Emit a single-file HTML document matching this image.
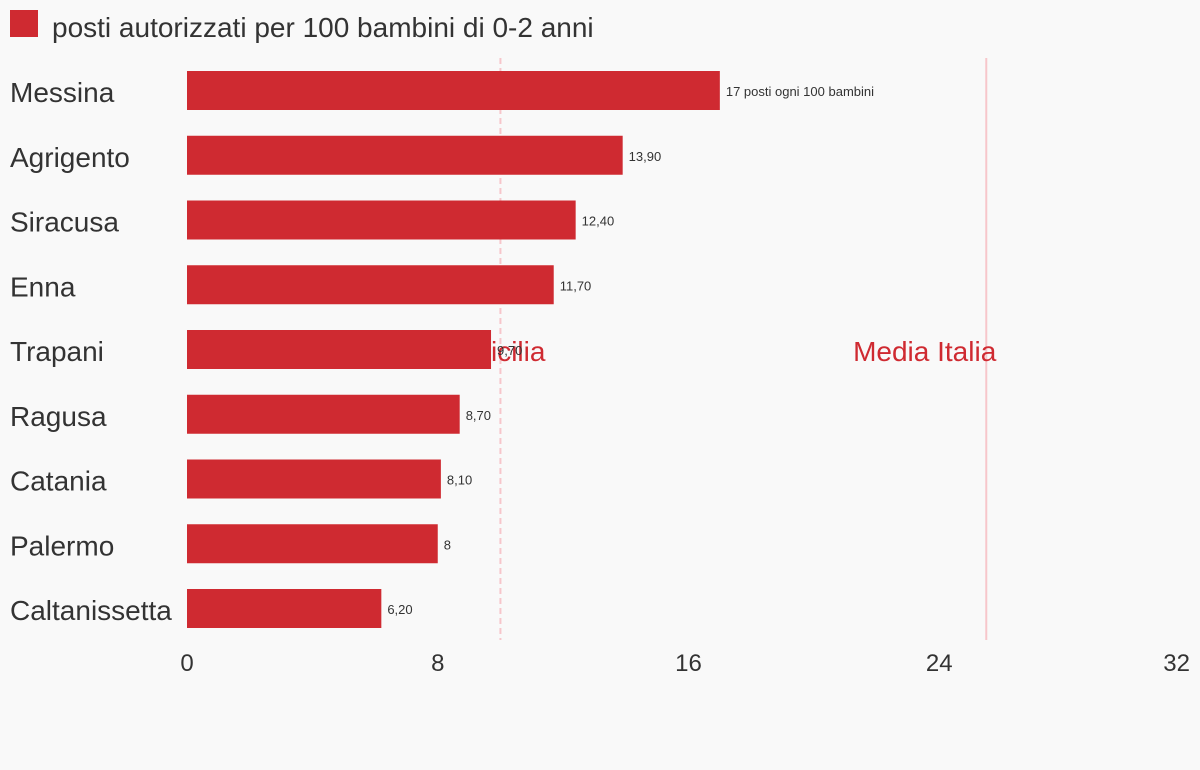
<!DOCTYPE html>
<html><head><meta charset="utf-8"><style>
body{margin:0;background:#f9f9f9;}
svg{display:block;font-family:"Liberation Sans",sans-serif;}
</style></head><body>
<svg id="c" width="1200" height="770">
<rect width="1200" height="770" fill="#f9f9f9"/>
<rect x="10" y="10" width="28" height="27" fill="#cf2a31"/>
<text x="52" y="37" font-size="28" fill="#333">posti autorizzati per 100 bambini di 0-2 anni</text>
<g id="refs"></g><g id="bars"></g><g id="ticks"></g>
</svg>
<script>
const categories=["Messina","Agrigento","Siracusa","Enna","Trapani","Ragusa","Catania","Palermo","Caltanissetta"];
const values=[17,13.9,12.4,11.7,9.7,8.7,8.1,8,6.2];
const valueLabels=["17 posti ogni 100 bambini","13,90","12,40","11,70","9,70","8,70","8,10","8","6,20"];
const tickValues=[0,8,16,24,32];
const refValues=[10,25.5];
const refLabels=["Media Sicilia","Media Italia"];
const NS="http://www.w3.org/2000/svg";
const x=v=>187+v*(1003/32);
const y=i=>71+i*64.75;
function mk(t,a,p){const e=document.createElementNS(NS,t);for(const k in a)e.setAttribute(k,a[k]);p.appendChild(e);return e;}
const refs=document.getElementById('refs'),bars=document.getElementById('bars'),ticks=document.getElementById('ticks');
refValues.forEach((v,i)=>{
 const l=mk('line',{x1:x(v),x2:x(v),y1:58,y2:640,stroke:'#f7c6cb','stroke-width':2,'stroke-dasharray':i==0?'6,4':'none'},refs);
 
 
 const t=mk('text',{x:i==0?x(v)+45:x(v)+10,y:361,'font-size':28,fill:'#cf2a31','text-anchor':'end'},refs);
 t.textContent=refLabels[i];
 
 
});
categories.forEach((c,i)=>{
 const t=mk('text',{x:10,y:y(i)+31,'font-size':28,fill:'#333'},bars);
 t.textContent=c;
 
 
 const r=mk('rect',{x:x(0),y:y(i),width:x(values[i])-x(0),height:39,fill:'#cf2a31'},bars);
 
 
 const v=mk('text',{x:x(values[i])+6,y:y(i)+25,'font-size':13,fill:'#333'},bars);
 v.textContent=valueLabels[i];
 
 
});
tickValues.forEach((v,i)=>{
 const t=mk('text',{x:i==tickValues.length-1?1190:x(v),y:671,'font-size':24,fill:'#333','text-anchor':i==tickValues.length-1?'end':'middle'},ticks);
 t.textContent=v;
 
 
});
</script>
</body></html>
